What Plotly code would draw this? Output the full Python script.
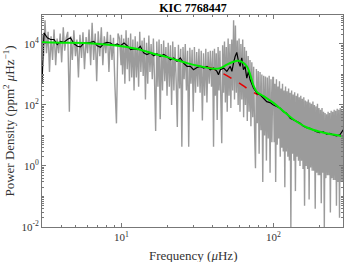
import plotly.graph_objects as go

# ---------------- data ----------------
gray_freq = [
    3.00, 3.07, 3.14, 3.21, 3.29, 3.36, 3.44, 3.52, 3.60, 3.69, 3.77, 3.86, 3.95, 4.04, 4.14, 4.23,
    4.33, 4.43, 4.54, 4.64, 4.75, 4.86, 4.98, 5.09, 5.21, 5.33, 5.46, 5.58, 5.71, 5.85, 5.98, 6.12,
    6.27, 6.41, 6.56, 6.72, 6.87, 7.03, 7.20, 7.37, 7.54, 7.71, 7.89, 8.08, 8.27, 8.46, 8.66, 8.86,
    9.06, 9.27, 9.49, 9.71, 9.94,
    10.0, 10.17, 10.35, 10.53, 10.72, 10.91, 11.10, 11.29, 11.49, 11.69, 11.89, 12.10, 12.31, 12.53,
    12.74, 12.97, 13.19, 13.42, 13.66, 13.90, 14.13, 14.38, 14.63, 14.89, 15.14, 15.40, 15.67, 15.95,
    16.22, 16.50, 16.79, 17.08, 17.38, 17.68, 17.99, 18.30, 18.62, 18.95, 19.28, 19.61, 19.95, 20.30,
    20.65, 21.01, 21.38, 21.75, 22.13, 22.51, 22.91, 23.31, 23.71, 24.12, 24.55, 24.97, 25.41, 25.85,
    26.30, 26.76, 27.23, 27.70, 28.18, 28.67, 29.17, 29.68, 30.20, 30.72, 31.26, 31.80, 32.36, 32.92,
    33.50, 34.08, 34.67, 35.28, 35.89, 36.52, 37.15, 37.80, 38.46, 39.13,
    39.81, 40.36, 40.93, 41.50, 42.07, 42.66, 43.25, 43.85, 44.46, 45.08, 45.71, 46.34, 46.99, 47.64,
    48.31, 48.98, 49.66, 50.35, 51.05, 51.76, 52.48, 53.21, 53.95, 54.70, 55.46, 56.23, 57.02, 57.81,
    58.61, 59.43, 60.26, 61.09, 61.94, 62.81, 63.68, 64.57, 65.46, 66.37, 67.30, 68.23, 69.18, 70.15,
    71.12, 72.11, 73.11, 74.13, 75.16, 76.21, 77.27, 78.34, 79.43, 80.54, 81.66, 82.79, 83.95, 85.11,
    86.30, 87.50, 88.72, 89.95, 91.20, 92.47, 93.76, 95.06, 96.38, 97.72, 99.08,
    100.0, 101.2, 102.3, 103.5, 104.7, 105.9, 107.2, 108.4, 109.6, 110.9, 112.2, 113.5, 114.8, 116.1,
    117.5, 118.9, 120.2, 121.6, 123.0, 124.5, 125.9, 127.4, 128.8, 130.3, 131.8, 133.4, 134.9, 136.5,
    138.0, 139.6, 141.3, 142.9, 144.5, 146.2, 147.9, 149.6, 151.4, 153.1, 154.9, 156.7, 158.5, 160.3,
    162.2, 164.1, 166.0, 167.9, 169.8, 171.8, 173.8, 175.8, 177.8, 179.9, 182.0, 184.1, 186.2, 188.4,
    190.5, 192.8, 195.0, 197.2, 199.5, 201.8, 204.2, 206.5, 208.9, 211.3, 213.8, 216.3, 218.8, 221.3,
    223.9, 226.5, 229.1, 231.7, 234.4, 237.1, 239.9, 242.7, 245.5, 248.3, 251.2, 254.1, 257.0, 260.0,
    263.0, 266.1, 269.2, 272.3, 275.4, 278.6, 281.8, 285.1, 288.0,
]
gray_power = [
    2.0e4, 4.0e3, 6.0e4, 5.0e3, 2.5e4, 1.2e3, 1.8e4, 3.0e3, 3.0e4, 2.0e3, 1.5e4, 5.0e3, 2.2e4, 2.5e3, 3.5e4, 6.0e3,
    1.6e4, 2.5e4, 60, 1.8e4, 3.0e3, 2.8e4, 4.0e3, 1.4e4, 800, 2.0e4, 3.5e3, 2.4e4, 1.5e3, 1.7e4, 5.0e3, 3.0e4,
    2.0e3, 5.0e4, 3.0e3, 2.2e4, 600, 2.6e4, 4.0e3, 3.5e4, 2.0e3, 1.8e4, 5.0e3, 2.5e4, 1.2e3, 2.0e4, 3.0e3, 1.6e4,
    400, 25, 2.2e4, 1.5e4, 2.0e3,
    2.0e4, 1.0e3, 1.5e4, 500, 2.8e4, 1.5e3, 1.6e4, 600, 2.2e4, 800, 1.4e4, 300, 1.8e4, 800,
    1.2e4, 400, 2.5e4, 1.2e3, 1.3e4, 900, 1.6e4, 150, 1.1e4, 500, 1.9e4, 1.2e3, 1.0e4, 700,
    1.5e4, 700, 14, 1.2e4, 400, 1.4e4, 34, 1.0e4, 300, 1.3e4, 600, 8.0e3, 200, 1.1e4,
    400, 9.0e3, 100, 1.2e4, 300, 8.0e3, 600, 19, 9.5e3, 350, 7.0e3, 4.3, 8.0e3, 700,
    1.0e4, 300, 6.0e3, 4.3, 7.5e3, 500, 6.5e3, 60, 8.0e3, 250, 5.5e3, 400, 7.0e3, 250,
    6.0e3, 31, 5.0e3, 200, 7.0e3, 120, 5.5e3, 500, 6.0e3, 400,
    6.0e3, 4.3, 7.0e3, 200, 5.0e3, 32, 8.0e3, 300, 6.0e3, 150, 5.6, 9.0e3, 250, 1.2e4,
    120, 8.0e3, 60, 1.5e4, 200, 1.0e4, 80, 1.4e4, 300, 6.0e4, 150, 4.0e4, 250, 1.3e4,
    100, 1.5e4, 60, 1.0e4, 150, 1.4e4, 40, 8.0e3, 100, 6.0e3, 30, 4.0e3, 60, 3.0e3,
    20, 2.5e3, 40, 1.8e3, 15, 0.85, 1.5e3, 25, 1.3e3, 2.5, 1.2e3, 15, 1.0e3, 0.3,
    900, 10, 850, 1.5, 800, 8, 900, 0.6, 700, 6, 800,
    800, 6, 500, 0.3, 700, 5, 400, 8, 600, 2, 350, 4, 500, 3,
    300, 0.2, 400, 3, 280, 2, 350, 1.5, 250, 0.01, 300, 2.5, 220, 1.5,
    260, 0.15, 200, 2, 240, 1.5, 180, 1, 200, 1.5, 160, 0.8, 180, 0.05,
    140, 1, 130, 0.8, 150, 0.08, 120, 0.9, 110, 0.7, 130, 0.7, 100, 0.04,
    90, 0.6, 110, 0.5, 80, 0.5, 70, 0.06, 80, 0.6, 60, 0.01, 55, 0.4,
    50, 0.5, 60, 0.5, 55, 0.03, 65, 0.4, 60, 0.35, 70, 0.35, 65, 0.05,
    75, 0.3, 70, 0.02, 80, 0.3, 70, 0.3, 60,
]

smooth_freq = [
    3.00, 3.09, 3.25, 3.42, 3.60, 3.78, 3.98, 4.18, 4.40, 4.62, 4.86, 5.12, 5.38, 5.66, 5.95, 6.26,
    6.58, 6.92, 7.28, 7.66, 8.05, 8.47, 8.91, 9.37, 9.85, 10.4, 10.9, 11.5, 12.1, 12.7, 13.3, 14.0,
    14.7, 15.5, 16.3, 17.1, 18.0, 19.0, 19.9, 21.0, 22.1, 23.2, 24.4, 25.6, 27.0, 28.4, 29.8, 31.4,
    33.0, 34.7, 36.5, 38.4, 40.4, 42.5, 43.5, 44.7, 47.0, 49.4, 52.0, 53.3, 54.6, 56.0, 57.4, 58.9,
    60.4, 61.9, 63.5, 65.1, 66.8, 68.5, 70.3, 73.9, 77.8, 81.7, 86.0, 90.4, 95.0, 100, 105, 111,
    116, 122, 129, 135, 142, 150, 157, 165, 174, 183, 192, 202, 213, 224, 235, 248, 260, 274, 288,
]
smooth_power = [
    500, 2.3e4, 1.6e4, 1.4e4, 1.4e4, 9.5e3, 1.22e4, 1.13e4, 1.4e4, 1.6e4, 1.03e4, 8.4e3, 8.0e3, 1.08e4, 1.08e4, 1.13e4,
    1.22e4, 8.8e3, 7.8e3, 1.03e4, 1.13e4, 1.08e4, 9.0e3, 1.0e4, 8.8e3, 1.08e4, 8.8e3, 6.5e3, 6.9e3, 6.5e3, 8.4e3, 5.1e3,
    4.5e3, 5.1e3, 4.1e3, 4.8e3, 3.9e3, 4.5e3, 3.9e3, 3.05e3, 3.5e3, 2.7e3, 3.5e3, 2.37e3, 1.84e3, 1.84e3, 1.43e3, 1.7e3,
    1.84e3, 1.62e3, 1.84e3, 1.43e3, 1.62e3, 1.26e3, 980, 1.43e3, 1.62e3, 1.26e3, 1.84e3, 1.26e3, 2.37e3, 3.9e3, 5.3e3, 2.7e3,
    1.84e3, 3.5e3, 1.43e3, 1.84e3, 760, 1.26e3, 670, 360, 240, 215, 166, 129, 120, 100, 89, 78,
    61, 54, 37, 33, 29, 25, 20.5, 18, 17.3, 15.2, 13.4, 12.4, 13.1, 11.2, 11.8, 10.5, 9.7, 10.5, 15.2,
]

fit_freq = [3.0, 4.0, 5.66, 7.5, 10, 13.3, 16.3, 20, 27, 33, 40.4, 44.7, 49.4, 54.6, 58, 62, 66.8,
            70.3, 74, 77.8, 86, 100, 116, 135, 165, 202, 248, 288]
fit_power = [1.13e4, 1.1e4, 1.08e4, 9.8e3, 8.4e3, 6.5e3, 4.8e3, 3.7e3, 2.35e3, 1.85e3, 1.55e3, 1.62e3,
             2.1e3, 2.6e3, 2.8e3, 2.6e3, 1.86e3, 1.0e3, 430, 270, 195, 117, 63, 34, 18.6, 13.2, 10.7, 9.3]

bg_freq = [36.5, 40.4, 47.0, 54.6, 60.4, 66.8, 73.9, 79.0]
bg_power = [1.75e3, 1.5e3, 1.05e3, 680, 500, 355, 260, 215]

x_tick_vals = [10, 100]
x_tick_text = ["10<sup>1</sup>", "10<sup>2</sup>"]
x_minor_vals = [3, 4, 5, 6, 7, 8, 9, 20, 30, 40, 50, 60, 70, 80, 90, 200]
y_tick_vals = [1e-2, 1e0, 1e2, 1e4]
y_tick_text = ["10<sup>-2</sup>", "10<sup>0</sup>", "10<sup>2</sup>", "10<sup>4</sup>"]
y_minor_vals = [m * 10.0 ** e for e in range(-2, 5) for m in range(1, 10) if not (m == 1 and e % 2 == 0)]

# ---------------- figure ----------------
SERIF = "Liberation Serif, Times New Roman, serif"
TXT = "#333"
fig = go.Figure()
fig.add_trace(go.Scatter(x=gray_freq, y=gray_power, mode="lines",
                         line=dict(color="rgb(155,155,155)", width=1.4, simplify=False),
                         hoverinfo="skip"))
fig.add_trace(go.Scatter(x=bg_freq, y=bg_power, mode="lines", line_shape="spline",
                         line=dict(color="rgb(230,0,0)", width=1.6, dash="dash")))
fig.add_trace(go.Scatter(x=smooth_freq, y=smooth_power, mode="lines",
                         line=dict(color="black", width=1.2, simplify=False)))
fig.add_trace(go.Scatter(x=fit_freq, y=fit_power, mode="lines", line_shape="spline",
                         line=dict(color="rgb(0,235,0)", width=2)))

axis_common = dict(showgrid=False, zeroline=False, showline=True, mirror="allticks",
                   linecolor="#777", linewidth=1, ticks="inside", ticklen=4, tickcolor="#777",
                   tickfont=dict(family=SERIF, size=11, color=TXT))
fig.update_xaxes(type="log", range=[0.477, 2.458], tickmode="array",
                 tickvals=x_tick_vals, ticktext=x_tick_text,
                 minor=dict(tickmode="array", tickvals=x_minor_vals, ticks="inside", ticklen=2,
                            tickcolor="#777"),
                 **axis_common)
fig.update_yaxes(type="log", range=[-2, 4.95], tickmode="array",
                 tickvals=y_tick_vals, ticktext=y_tick_text,
                 minor=dict(tickmode="array", tickvals=y_minor_vals, ticks="inside", ticklen=2,
                            tickcolor="#777"),
                 title=dict(text="Power Density (ppm<sup>2</sup> <i>μ</i>Hz<sup>−1</sup>)",
                            font=dict(family=SERIF, size=13, color=TXT), standoff=3),
                 **axis_common)
fig.update_layout(
    width=349, height=262,
    margin=dict(l=42, r=6, t=15, b=35, autoexpand=False),
    paper_bgcolor="white", plot_bgcolor="white",
    showlegend=False, hovermode=False,
    title=dict(text="<b>KIC 7768447</b>", x=0.553, xanchor="center", y=0.985, yanchor="top",
               font=dict(family=SERIF, size=12, color="black")),
    annotations=[dict(text="Frequency (<i>μ</i>Hz)", xref="paper", yref="paper",
                      x=0.5, y=-0.134, xanchor="center", yanchor="middle", showarrow=False,
                      font=dict(family=SERIF, size=13, color=TXT))],
)
fig.write_html("out.html", config={"displayModeBar": False, "staticPlot": True},
               post_script="document.body.style.margin='0';document.body.style.overflow='hidden';")
